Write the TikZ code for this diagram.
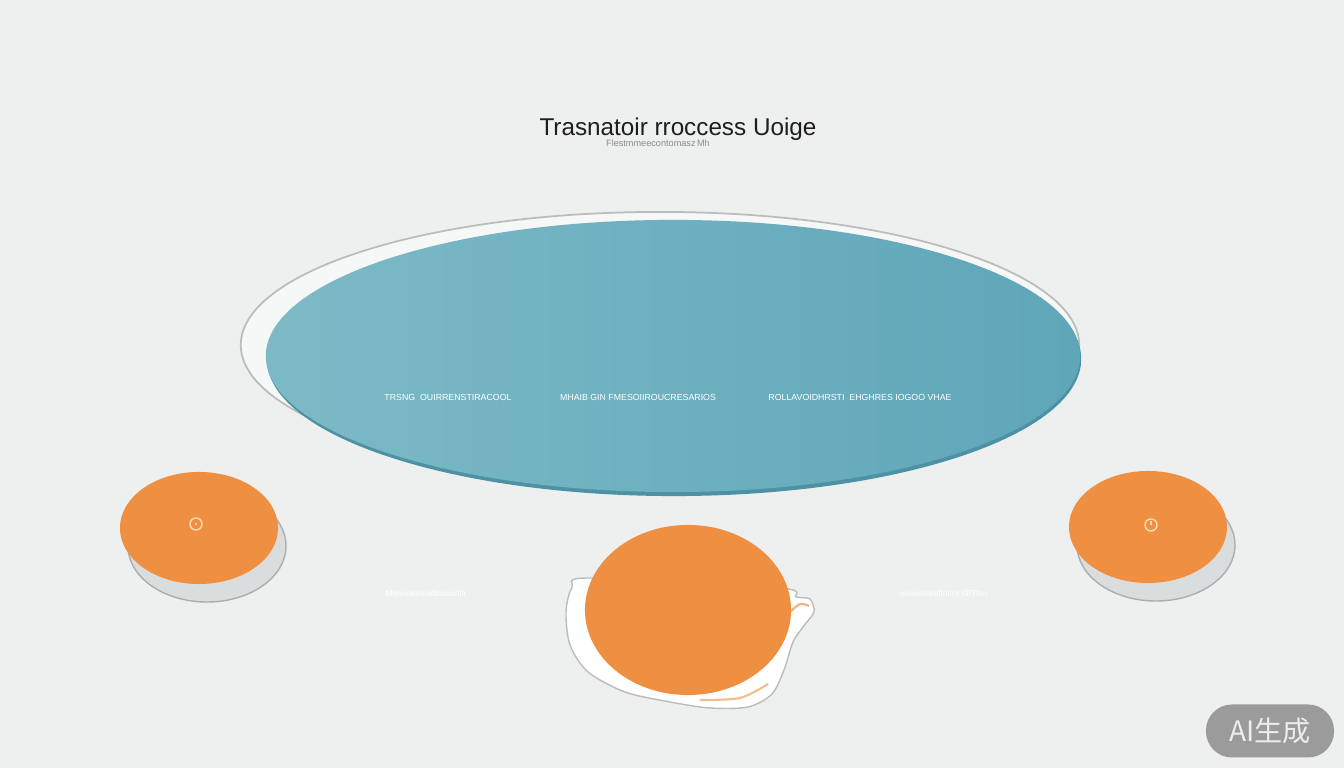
\documentclass[tikz,border=0pt]{standalone}
\usepackage{fontspec}
\setmainfont{Liberation Sans}
\newfontfamily\cjkfont{Noto Sans CJK SC}
\usetikzlibrary{shapes.geometric}

\definecolor{bgcol}{HTML}{EEF0EF}
\definecolor{titlecol}{HTML}{1E1E1E}
\definecolor{subgray}{HTML}{8A8C8C}
\definecolor{rimwhite}{HTML}{F6F7F7}
\definecolor{rimgray}{HTML}{B9BDBE}
\definecolor{blueL}{HTML}{7DBAC6}
\definecolor{blueR}{HTML}{5FA6B9}
\definecolor{blueedge}{HTML}{4D91A5}
\definecolor{discorange}{HTML}{EF8F42}
\definecolor{sidegray}{HTML}{D9DDDE}
\definecolor{edgegray}{HTML}{A9AEB0}
\definecolor{iconcream}{HTML}{F8DDB4}
\definecolor{badgegray}{HTML}{9A9B9A}

\tikzset{
  discside/.style={ellipse, inner sep=0pt, fill=sidegray, draw=edgegray, line width=0.4pt,
    minimum width=1.58cm, minimum height=1.12cm},
  disctop/.style={ellipse, inner sep=0pt, fill=discorange,
    minimum width=1.58cm, minimum height=1.12cm},
  boardlbl/.style={text=white, font=\fontsize{2.5}{3}\selectfont},
  floorlbl/.style={text=white, font=\fontsize{2.4}{3}\selectfont},
  icon/.style={circle, draw=iconcream, line width=0.4pt, minimum size=0.12cm, inner sep=0pt},
}

\begin{document}
\begin{tikzpicture}[x=0.01cm, y=-0.01cm]
	    \useasboundingbox[fill=bgcol] (0,0) rectangle (1344,768);
	    
	    % title
	    \node[text=titlecol, font=\fontsize{6.9}{8}\selectfont] at (678,129) (title) {Trasnatoir rroccess Uoige};
	    \node[text=subgray, font=\fontsize{2.6}{3}\selectfont] at (658,143) (subtitle) {Flestmmeecontomasz\,Mh};
	    
	    % board
	    \node[ellipse, inner sep=0pt, fill=rimwhite, draw=rimgray, line width=0.5pt,
	      minimum width=8.38cm, minimum height=2.66cm] at (660,345) (rim) {};
	    \node[ellipse, inner sep=0pt, fill=blueedge, minimum width=8.14cm, minimum height=2.74cm] at (674,359) (boardedge) {};
	    \node[ellipse, inner sep=0pt, left color=blueL, right color=blueR,
	      minimum width=8.14cm, minimum height=2.72cm] at (673,356) (board) {};
	    
	    \node[boardlbl] at (448,397) (lblA) {TRSNG\ \ OUIRRENSTIRACOOL};
	    \node[boardlbl] at (638,397) (lblB) {MHAIB GIN FMESOIIROUCRESARIOS};
	    \node[boardlbl] at (860,397) (lblC) {ROLLAVOIDHRSTI\ \ EHGHRES IOGOO VHAE};
	    
	    % left disc
	    \node[discside] at (207,546) (leftside) {};
	    \node[disctop] at (199,528) (leftdisc) {};
	    \node[icon] at (196,524) (lefticon) {};
	    \fill[iconcream] (lefticon.center) circle (1.2);
	    
	    % right disc
	    \node[discside] at (1156,545) (rightside) {};
	    \node[disctop] at (1148,527) (rightdisc) {};
	    \node[icon] at (1151,525) (righticon) {};
	    \draw[iconcream, line width=0.4pt] (righticon.center) -- ++(0,-4);
	    
	    % centre disc
	    \draw[fill=white, draw=rimgray, line width=0.4pt] plot[smooth cycle] coordinates
	      {(590,578) (572,588) (566,612) (570,645) (588,672) (625,692) (670,702) (710,708) (748,707)
	       (772,694) (784,670) (793,642) (803,627) (814,612) (810,599) (796,597) (780,588)};
	    \draw[discorange!70, line width=0.6pt] plot[smooth] coordinates {(790,612) (800,604) (809,606)};
	    \draw[discorange!60, line width=0.6pt] plot[smooth] coordinates {(700,700) (740,698) (768,684)};
	    \node[ellipse, inner sep=0pt, fill=discorange, minimum width=2.06cm, minimum height=1.70cm] at (688,610) (centredisc) {};
	    
	    \node[floorlbl] at (426,593) (floorA) {Mlmeeeosnilltcosunllr};
	    \node[floorlbl] at (944,593) (floorB) {oooaeessitlnllr\,s\,SlITlsrr};
	    
	    % badge
	    \node[rounded corners=0.26cm, fill=badgegray, text=white!93!black, minimum width=1.28cm,
	      minimum height=0.53cm, font=\cjkfont\fontsize{8}{9}\selectfont] at (1270,731) (badge) {AI生成};
	    
	    \end{tikzpicture}
\end{document}
